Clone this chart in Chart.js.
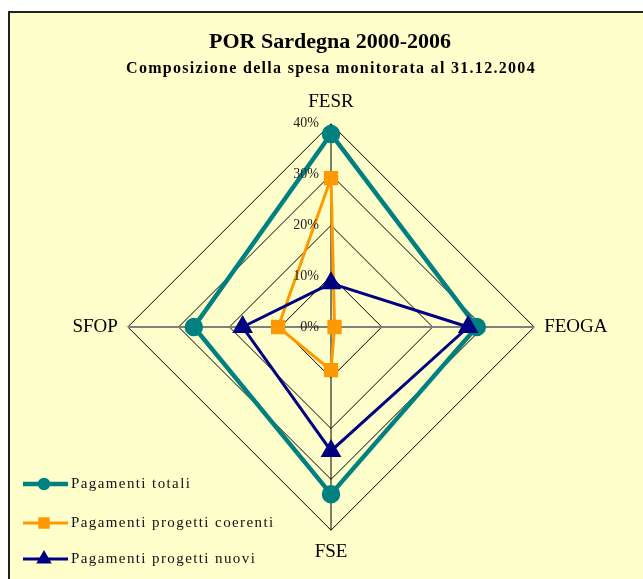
<!DOCTYPE html>
<html>
<head>
<meta charset="utf-8">
<script src="https://cdn.jsdelivr.net/npm/chart.js@4.4.1/dist/chart.umd.min.js"></script>
<style>
  html, body { margin: 0; padding: 0; background: #fff; }
  #wrap { width: 643px; height: 579px; position: relative; }
</style>
</head>
<body>
<div id="wrap"><canvas id="myChart" width="643" height="579"></canvas></div>
<script>
// data (percent)
const categories = ['FESR', 'FEOGA', 'FSE', 'SFOP'];
const pagamentiTotali = [38.0, 28.7, 32.9, 27.0];
const pagamentiCoerenti = [29.3, 0.7, 8.5, 10.4];
const pagamentiNuovi = [8.6, 27.0, 24.4, 17.4];
const tickValues = [0, 10, 20, 30, 40];
const seriesNames = ['Pagamenti totali', 'Pagamenti progetti coerenti', 'Pagamenti progetti nuovi'];

const serif = "'Liberation Serif', 'Times New Roman', serif";

// background + frame, titles, tick labels and the legend
const decor = {
    id: 'decor',
    beforeDraw(chart) {
        const c = chart.ctx;
        c.save();
        c.fillStyle = '#ffffff';
        c.fillRect(0, 0, chart.width, chart.height);
        c.fillStyle = '#FFFFCC';
        c.fillRect(9, 12, chart.width, chart.height);
        c.strokeStyle = '#222';
        c.lineWidth = 2;
        c.beginPath();
        c.moveTo(9, chart.height);
        c.lineTo(9, 12);
        c.lineTo(chart.width, 12);
        c.stroke();
        c.restore();
    },
    afterDraw(chart) {
        const c = chart.ctx;
        const scale = chart.scales.r;
        c.save();
        c.fillStyle = '#000';
        c.textAlign = 'center';
        c.textBaseline = 'middle';
        c.font = 'bold 22px ' + serif;
        c.fillText('POR Sardegna 2000-2006', 330, 42);
        c.font = 'bold 16px ' + serif;
        c.letterSpacing = '1.3px';
        c.fillText('Composizione della spesa monitorata al 31.12.2004', 331, 69);
        c.letterSpacing = '0px';

        // tick labels, just left of the vertical axis
        c.font = '14px ' + serif;
        c.fillStyle = '#222';
        c.textAlign = 'right';
        tickValues.forEach(v => {
            const d = scale.getDistanceFromCenterForValue(v);
            c.fillText(v + '%', scale.xCenter - 12, scale.yCenter - d);
        });

        // legend: line with marker in the middle
        const rowsY = [484, 523, 559];
        chart.data.datasets.forEach((ds, i) => {
            const y = rowsY[i];
            c.strokeStyle = ds.borderColor;
            c.lineWidth = ds.borderWidth;
            c.beginPath();
            c.moveTo(23, y);
            c.lineTo(68, y);
            c.stroke();
            Chart.helpers.drawPoint(c, {
                pointStyle: ds.pointStyle,
                radius: ds.legendRadius,
                borderWidth: 1
            }, 44, y);
            c.fillStyle = ds.borderColor;
            c.fill();
            c.fillStyle = '#111';
            c.textAlign = 'left';
            c.font = '15px ' + serif;
            c.letterSpacing = '1.4px';
            c.fillText(ds.label, 71, y);
            c.letterSpacing = '0px';
        });
        c.restore();
    }
};

const ctx = document.getElementById('myChart').getContext('2d');
let myChart = new Chart(ctx, {
    type: 'radar',
    data: {
        labels: categories,
        datasets: [{
            label: seriesNames[0],
            data: pagamentiTotali,
            borderColor: '#008080',
            backgroundColor: '#008080',
            borderWidth: 4.5,
            pointStyle: 'circle',
            pointRadius: 7,
            legendRadius: 4,
            fill: false,
            order: 3
        }, {
            label: seriesNames[1],
            data: pagamentiCoerenti,
            borderColor: '#FF9900',
            backgroundColor: '#FF9900',
            borderWidth: 3,
            pointStyle: 'rect',
            pointRadius: 8,
            legendRadius: 6,
            fill: false,
            order: 2
        }, {
            label: seriesNames[2],
            data: pagamentiNuovi,
            borderColor: '#000080',
            backgroundColor: '#000080',
            borderWidth: 3,
            pointStyle: 'triangle',
            pointRadius: 9,
            legendRadius: 6,
            fill: false,
            order: 1
        }]
    },
    options: {
        responsive: false,
        animation: false,
        layout: {
            padding: { top: 91, bottom: 16, left: 20, right: 0 }
        },
        elements: {
            line: { tension: 0 },
            point: { borderWidth: 1, hoverRadius: 9 }
        },
        plugins: {
            legend: { display: false },
            tooltip: { enabled: false }
        },
        scales: {
            r: {
                min: 0,
                max: 40,
                ticks: { stepSize: 10, display: false },
                grid: { circular: false, color: '#000', lineWidth: 1 },
                angleLines: {
                    color: (c) => (c.index % 2 === 1 ? '#808080' : '#000'),
                    lineWidth: (c) => (c.index % 2 === 1 ? 2 : 1)
                },
                pointLabels: {
                    color: '#000',
                    padding: 10,
                    font: { family: serif, size: 19 }
                }
            }
        }
    },
    plugins: [decor]
});
</script>
</body>
</html>
